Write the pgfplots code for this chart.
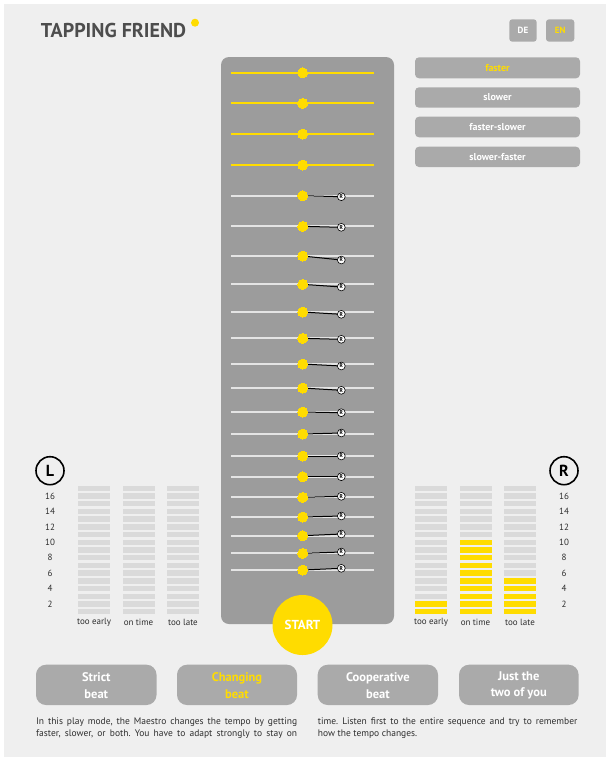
\documentclass[border=0pt]{standalone}
\usepackage{fontspec}
\setmainfont{PT Sans}
\usepackage{pgfplots}
\pgfplotsset{compat=1.18}
\usepackage{pgfplotstable}
\definecolor{bg}{HTML}{EFEFEF}
\definecolor{panel}{HTML}{9C9C9C}
\definecolor{btn}{HTML}{AAAAAA}
\definecolor{segc}{HTML}{DADADA}
\definecolor{yel}{HTML}{FFDC00}
\definecolor{txt}{HTML}{2E2E2E}
\definecolor{titlec}{HTML}{4D4D4D}
\definecolor{rail}{HTML}{E4E4E4}

\pgfdeclareplotmark{segm}{\pgfsetcornersarced{\pgfpoint{2pt}{2pt}}\pgfpathrectangle{\pgfpoint{-16pt}{-2.75pt}}{\pgfpoint{32pt}{5.5pt}}\pgfusepathqfill}

% guide rows (Maestro, yellow)
\pgfplotstableread{
dx dy
302.7 72.7
302.7 103.3
302.7 134.0
302.7 165.0
}\guides
% tapping rows: Maestro dot (dx,dy) and player tap R (rx,ry)
\pgfplotstableread{
dx dy rx ry
302.7 195.7 341.3 196.7
302.7 226.3 341.3 227.3
302.7 256.0 341.3 260.0
302.7 284.3 341.3 287.0
302.7 312.0 341.3 314.3
302.7 338.3 341.3 339.3
302.7 364.0 341.3 366.0
302.7 388.0 341.3 390.3
302.7 412.0 341.3 412.7
302.7 434.0 341.3 433.0
302.7 456.0 341.3 456.0
302.7 476.7 341.3 476.7
302.7 497.3 341.3 496.3
302.7 517.0 341.3 516.0
302.7 535.7 341.3 534.0
302.7 553.3 341.3 552.0
302.7 570.0 341.3 568.3
}\taps

\pgfplotsset{meter/.style={scale only axis, width=133.5pt, height=131.1pt,
  xmin=-0.5, xmax=2.5, ymin=0.5, ymax=17.5, anchor=center, clip=false,
  axis line style={draw=none}, tick style={draw=none}, major tick length=0pt,
  xtick={0,1,2}, xticklabels={too early,on time,too late},
  ytick={2,4,6,8,10,12,14,16},
  /pgf/number format/assume math mode=true,
  ticklabel style={font=\fontsize{9}{10}\selectfont, text=txt, inner sep=0pt},
  xticklabel style={anchor=center, yshift=-6.45pt}}}

\newcommand{\btntext}{\fontsize{10}{11}\selectfont\bfseries}
\newcommand{\bigbtn}{\fontsize{12.5}{16.7}\selectfont\bfseries}

\begin{document}
\frenchspacing
\begin{tikzpicture}
\begin{axis}[anchor=north west, at={(0pt,0pt)}, scale only axis, width=606pt, height=762pt,
  xmin=0, xmax=606, ymin=0, ymax=762, y dir=reverse, hide axis, clip=false]
  % page
  \fill[white] (axis cs:0,0) rectangle (axis cs:606,762);
  \fill[bg] (axis cs:4,4) rectangle (axis cs:606,757);
  % header
  \node[anchor=base west, inner sep=0pt, text=titlec, font=\fontsize{20}{22}\selectfont\bfseries]
    at (axis cs:40.7,37.5) {TAPPING FRIEND};
  \fill[yel] (axis cs:195,22.7) circle[radius=4pt];
  \fill[btn, rounded corners=3pt] (axis cs:509.3,19.3) rectangle (axis cs:536.7,41.7);
  \fill[btn, rounded corners=3pt] (axis cs:546,19.3) rectangle (axis cs:574.3,41.7);
  \node[text=white, font=\fontsize{9}{10}\selectfont\bfseries] at (axis cs:523,30.5) {DE};
  \node[text=yel, font=\fontsize{9}{10}\selectfont\bfseries] at (axis cs:560.2,30.5) {EN};
  % tempo buttons
  \fill[btn, rounded corners=4pt] (axis cs:415,57.3) rectangle (axis cs:580,78.3);
  \fill[btn, rounded corners=4pt] (axis cs:415,87.3) rectangle (axis cs:580,107.7);
  \fill[btn, rounded corners=4pt] (axis cs:415,116.7) rectangle (axis cs:580,137.3);
  \fill[btn, rounded corners=4pt] (axis cs:415,146.7) rectangle (axis cs:580,167);
  \node[text=yel, font=\btntext] at (axis cs:497.5,67.8) {faster};
  \node[text=white, font=\btntext] at (axis cs:497.5,97.5) {slower};
  \node[text=white, font=\btntext] at (axis cs:497.5,127) {faster-slower};
  \node[text=white, font=\btntext] at (axis cs:497.5,156.9) {slower-faster};
  % central panel
  \fill[panel, rounded corners=8pt] (axis cs:221,57) rectangle (axis cs:394,624);
  % rails
  \addplot[yel, line width=2pt, mark=none, quiver={u=143, v=0}, -]
    table[x expr=\thisrow{dx}-71.5, y=dy] {\guides};
  \addplot[rail, line width=1.8pt, mark=none, quiver={u=143, v=0}, -]
    table[x expr=\thisrow{dx}-71.5, y=dy] {\taps};
  % connectors
  \addplot[black, line width=1pt, mark=none,
    quiver={u={\thisrow{rx}-\thisrow{dx}}, v={\thisrow{ry}-\thisrow{dy}}}, -]
    table[x=dx, y=dy] {\taps};
  % Maestro dots
  \addplot[yel, only marks, mark=*, mark size=5pt, mark options={fill=yel, draw=yel, line width=0pt}]
    table[x=dx, y=dy] {\guides};
  \addplot[yel, only marks, mark=*, mark size=5pt, mark options={fill=yel, draw=yel, line width=0pt}]
    table[x=dx, y=dy] {\taps};
  % player taps
  \addplot[black, only marks, mark=*, mark size=3.9pt,
    mark options={fill=white, draw=black, line width=0.6pt},
    nodes near coords={\textbf{R}},
    every node near coord/.style={anchor=center, inner sep=0pt, text=black,
      font=\fontsize{5.5}{5.5}\selectfont}]
    table[x=rx, y=ry] {\taps};
  % start
  \fill[yel] (axis cs:302.5,625) circle[radius=30pt];
  \node[text=white, font=\fontsize{13}{14}\selectfont\bfseries] at (axis cs:302.5,625) {START};
  % L R circles
  \draw[black, line width=1.6pt] (axis cs:50,470.7) circle[radius=14pt];
  \node[text=black, font=\fontsize{16}{16}\selectfont\bfseries] at (axis cs:50,470.7) {L};
  \draw[black, line width=1.6pt] (axis cs:564,470.7) circle[radius=14pt];
  \node[text=black, font=\fontsize{16}{16}\selectfont\bfseries] at (axis cs:564,470.7) {R};
  % mode buttons
  \fill[btn, rounded corners=10pt] (axis cs:36,664.7) rectangle (axis cs:156.5,705);
  \fill[btn, rounded corners=10pt] (axis cs:177,664.7) rectangle (axis cs:297,705);
  \fill[btn, rounded corners=10pt] (axis cs:317.7,664.7) rectangle (axis cs:438,705);
  \fill[btn, rounded corners=10pt] (axis cs:459,664.7) rectangle (axis cs:578.6,705);
  \node[text=white, font=\bigbtn, align=center] at (axis cs:96.3,685.3) {Strict\\beat};
  \node[text=yel, font=\bigbtn, align=center] at (axis cs:237,685.3) {Changing\\beat};
  \node[text=white, font=\bigbtn, align=center] at (axis cs:377.9,685.3) {Cooperative\\beat};
  \node[text=white, font=\bigbtn, align=center] at (axis cs:518.8,685.3) {Just the\\two of you};
  % description
  \node[anchor=base west, inner sep=0pt, text=txt, font=\fontsize{9.5}{12}\selectfont]
    at (axis cs:36,724) {\makebox[261pt][s]{In this play mode, the Maestro changes the tempo by getting}};
  \node[anchor=base west, inner sep=0pt, text=txt, font=\fontsize{9.5}{12}\selectfont]
    at (axis cs:36,736.3) {\makebox[261pt][s]{faster, slower, or both. You have to adapt strongly to stay on}};
  \node[anchor=base west, inner sep=0pt, text=txt, font=\fontsize{9.5}{12}\selectfont]
    at (axis cs:317.7,724) {\makebox[259.5pt][s]{time. Listen first to the entire sequence and try to remember}};
  \node[anchor=base west, inner sep=0pt, text=txt, font=\fontsize{9.5}{12}\selectfont]
    at (axis cs:317.7,736.3) {how the tempo changes.};
\end{axis}

% left meter
\begin{axis}[meter, at={(138.5pt,-550pt)},
  yticklabel style={anchor=center, xshift=-21.75pt}]
  \addplot[only marks, mark=segm, mark options={fill=segc, draw=none}] coordinates {
    (0,1)(0,2)(0,3)(0,4)(0,5)(0,6)(0,7)(0,8)(0,9)(0,10)(0,11)(0,12)(0,13)(0,14)(0,15)(0,16)(0,17)
    (1,1)(1,2)(1,3)(1,4)(1,5)(1,6)(1,7)(1,8)(1,9)(1,10)(1,11)(1,12)(1,13)(1,14)(1,15)(1,16)(1,17)
    (2,1)(2,2)(2,3)(2,4)(2,5)(2,6)(2,7)(2,8)(2,9)(2,10)(2,11)(2,12)(2,13)(2,14)(2,15)(2,16)(2,17)};
\end{axis}

% right meter
\begin{axis}[meter, at={(475.5pt,-550pt)}, yticklabel pos=right,
  yticklabel style={anchor=center, xshift=21.75pt}]
  \addplot[only marks, mark=segm, mark options={fill=segc, draw=none}] coordinates {
    (0,1)(0,2)(0,3)(0,4)(0,5)(0,6)(0,7)(0,8)(0,9)(0,10)(0,11)(0,12)(0,13)(0,14)(0,15)(0,16)(0,17)
    (1,1)(1,2)(1,3)(1,4)(1,5)(1,6)(1,7)(1,8)(1,9)(1,10)(1,11)(1,12)(1,13)(1,14)(1,15)(1,16)(1,17)
    (2,1)(2,2)(2,3)(2,4)(2,5)(2,6)(2,7)(2,8)(2,9)(2,10)(2,11)(2,12)(2,13)(2,14)(2,15)(2,16)(2,17)};
  \addplot[only marks, mark=segm, mark options={fill=yel, draw=none}] coordinates {
    (0,1)(0,2)
    (1,1)(1,2)(1,3)(1,4)(1,5)(1,6)(1,7)(1,8)(1,9)(1,10)
    (2,1)(2,2)(2,3)(2,4)(2,5)};
\end{axis}
\end{tikzpicture}
\end{document}
